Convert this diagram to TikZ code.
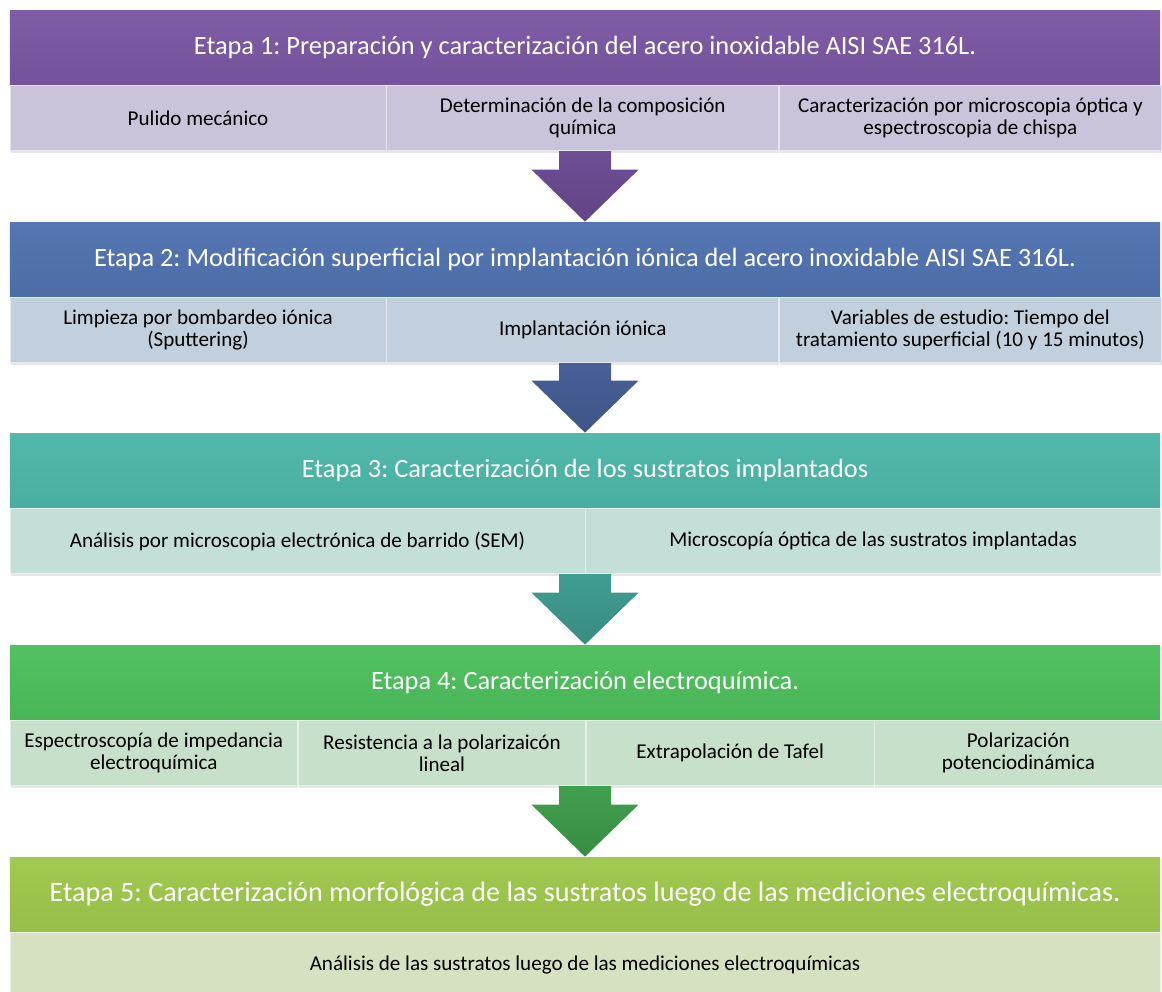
\documentclass[tikz,border=0pt]{standalone}
\usepackage{fontspec}
\setmainfont{Carlito}
\frenchspacing
\usetikzlibrary{calc,shadows}
\definecolor{etapaUno}{RGB}{123,87,163}
\definecolor{pasoUno}{RGB}{201,196,218}
\definecolor{flechaUno}{RGB}{110,78,150}
\definecolor{etapaDos}{RGB}{80,114,176}
\definecolor{pasoDos}{RGB}{194,207,220}
\definecolor{flechaDos}{RGB}{72,96,152}
\definecolor{etapaTres}{RGB}{76,183,168}
\definecolor{pasoTres}{RGB}{196,222,216}
\definecolor{flechaTres}{RGB}{64,158,145}
\definecolor{etapaCuatro}{RGB}{76,191,92}
\definecolor{pasoCuatro}{RGB}{198,224,201}
\definecolor{flechaCuatro}{RGB}{64,160,76}
\definecolor{etapaCinco}{RGB}{158,200,76}
\definecolor{pasoCinco}{RGB}{214,225,194}

\tikzset{
  etapa/.style={minimum width=23cm, minimum height=1.5cm, inner sep=0pt,
    top color=#1!97!white, bottom color=#1!95!black, text=white,
    font=\fontsize{15}{17}\selectfont},
  paso/.style={anchor=north west, minimum height=1.3cm, inner sep=0pt,
    align=center, fill=#1, draw=white!55!#1,
    drop shadow={opacity=0.2, shadow xshift=0.3pt, shadow yshift=-1.4pt},
    font=\fontsize{12}{12.5}\selectfont},
}

\begin{document}
\begin{tikzpicture}
  \useasboundingbox (0,0) rectangle (23.24,-19.82);

  % etapa 1
  \node[etapa=etapaUno] (e1) at (11.7,-0.95) {Etapa 1: Preparación y caracterización del acero inoxidable AISI SAE 316L.};
  \node[paso=pasoUno, minimum width=7.52cm] (s1-1) at (e1.south west) {Pulido mecánico};
  \node[paso=pasoUno, minimum width=7.84cm] (s1-2) at (s1-1.north east) {Determinación de la composición\\química};
  \node[paso=pasoUno, minimum width=7.64cm] (s1-3) at (s1-2.north east) {Caracterización por microscopia óptica y\\espectroscopia de chispa};

  % etapa 2
  \node[etapa=etapaDos] (e2) at (11.7,-5.19) {Etapa 2: Modificación superficial por implantación iónica del acero inoxidable AISI SAE 316L.};
  \node[paso=pasoDos, minimum width=7.52cm] (s2-1) at (e2.south west) {Limpieza por bombardeo iónica\\(Sputtering)};
  \node[paso=pasoDos, minimum width=7.84cm] (s2-2) at (s2-1.north east) {Implantación iónica};
  \node[paso=pasoDos, minimum width=7.64cm] (s2-3) at (s2-2.north east) {Variables de estudio: Tiempo del\\tratamiento superficial (10 y 15 minutos)};

  % etapa 3
  \node[etapa=etapaTres] (e3) at (11.7,-9.41) {Etapa 3: Caracterización de los sustratos implantados};
  \node[paso=pasoTres, minimum width=11.5cm] (s3-1) at (e3.south west) {Análisis por microscopia electrónica de barrido (SEM)};
  \node[paso=pasoTres, minimum width=11.5cm] (s3-2) at (s3-1.north east) {Microscopía óptica de las sustratos implantadas};

  % etapa 4
  \node[etapa=etapaCuatro] (e4) at (11.7,-13.65) {Etapa 4: Caracterización electroquímica.};
  \node[paso=pasoCuatro, minimum width=5.75cm] (s4-1) at (e4.south west) {Espectroscopía de impedancia\\electroquímica};
  \node[paso=pasoCuatro, minimum width=5.75cm] (s4-2) at (s4-1.north east) {Resistencia a la polarizaicón\\lineal};
  \node[paso=pasoCuatro, minimum width=5.75cm] (s4-3) at (s4-2.north east) {Extrapolación de Tafel};
  \node[paso=pasoCuatro, minimum width=5.75cm] (s4-4) at (s4-3.north east) {Polarización\\potenciodinámica};

  % etapa 5
  \node[etapa=etapaCinco, font=\fontsize{16}{18}\selectfont] (e5) at (11.7,-17.89) {Etapa 5: Caracterización morfológica de las sustratos luego de las mediciones electroquímicas.};
  \node[paso=pasoCinco, minimum width=23cm] (s5-1) at (e5.south west) {Análisis de las sustratos luego de las mediciones electroquímicas};

  % flechas entre etapas
  \foreach \i/\j/\c in {1/2/flechaUno, 2/3/flechaDos, 3/4/flechaTres, 4/5/flechaCuatro}
    \shade[top color=\c, bottom color=\c!88!black]
      ($(e\i.south |- s\i-1.south)+(-0.52,0)$) -- ($(e\i.south |- s\i-1.south)+(0.52,0)$)
      -- ($(e\j.north)+(0.52,1.04)$) -- ($(e\j.north)+(1.07,1.04)$) -- (e\j.north)
      -- ($(e\j.north)+(-1.07,1.04)$) -- ($(e\j.north)+(-0.52,1.04)$) -- cycle;
\end{tikzpicture}
\end{document}
